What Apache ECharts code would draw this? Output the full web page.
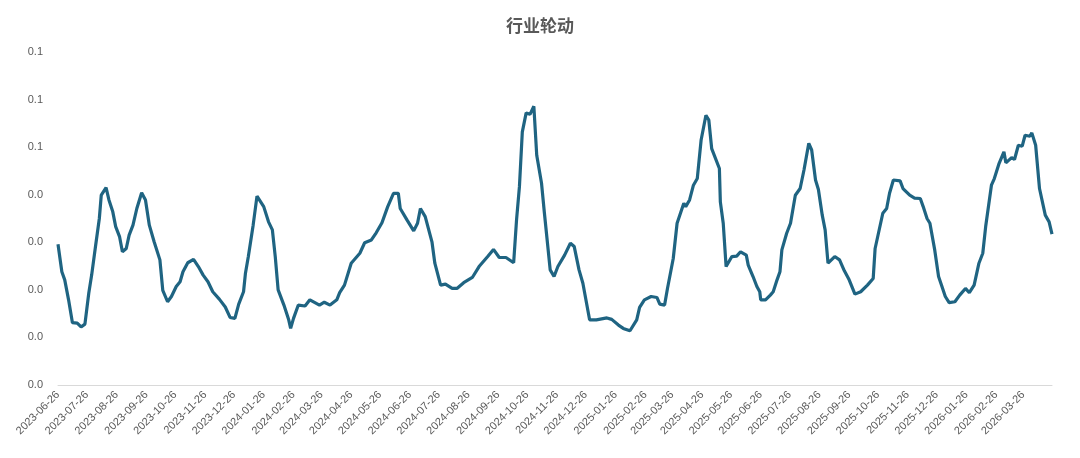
<!DOCTYPE html>
<html><head><meta charset="utf-8">
<script src="https://cdn.jsdelivr.net/npm/echarts@6/dist/echarts.min.js"></script>
<style>html,body{margin:0;padding:0;background:#fff}#c{width:1080px;height:458px}</style>
</head><body><div id="c"></div>
<script>
const startDate = '2023-06-26';
const totalDays = 1035;
const dayOffsets = [0,4,7,11,15,20,24,28,32,35,39,43,45,50,53,57,60,64,67,71,74,78,82,88,92,96,101,107,110,115,119,124,128,131,136,142,147,152,157,162,169,175,180,185,189,194,196,199,204,208,215,220,224,227,230,236,241,243,246,251,258,264,274,279,285,292,295,300,307,316,321,328,333,339,345,351,356,358,365,372,376,379,384,391,394,400,405,412,417,424,433,441,450,456,462,469,477,480,483,486,490,494,498,501,506,509,515,519,523,530,536,540,545,549,556,563,574,579,586,591,598,605,609,614,621,627,630,635,638,644,648,655,657,661,665,669,673,678,681,684,692,693,696,699,705,710,714,720,722,727,731,734,735,740,745,748,752,755,757,762,766,771,776,781,786,789,793,796,800,803,806,813,818,823,828,834,840,847,853,855,863,867,870,874,881,884,891,896,902,905,909,912,917,921,924,928,932,938,943,949,954,959,964,968,971,977,980,985,990,992,998,1001,1005,1009,1012,1017,1019,1023,1027,1033,1037,1040];
const valuesMilli = [29.6,23.8,22.1,17.9,13.1,13.0,12.2,12.8,19.3,23.1,29.1,35.0,39.9,41.5,38.9,36.4,33.3,31.2,28.0,28.7,31.5,33.6,37.1,40.4,38.9,33.6,30.1,26.3,19.9,17.5,18.6,20.7,21.7,23.8,25.7,26.4,24.9,23.1,21.7,19.6,18.0,16.4,14.2,14.0,17.0,19.6,23.5,27.0,33.6,39.7,37.5,34.3,32.6,27.0,20.0,16.8,13.7,11.9,14.0,16.8,16.6,17.9,16.8,17.4,16.8,17.9,19.4,21.0,25.6,27.7,29.9,30.5,32.0,34.1,37.5,40.3,40.3,37.1,34.7,32.4,34.0,37.1,35.4,30.1,25.6,21.0,21.2,20.3,20.3,21.5,22.6,24.9,27.0,28.5,26.8,26.8,25.7,34.7,41.7,53.2,57.2,56.9,58.6,48.3,42.4,36.1,24.2,22.8,24.9,27.3,29.8,29.1,24.2,21.4,13.7,13.7,14.1,13.8,12.6,11.9,11.4,13.7,16.3,17.9,18.6,18.4,17.0,16.8,20.3,26.6,34.0,38.2,37.5,38.9,42.0,43.4,51.5,56.7,55.7,49.7,45.5,38.5,34.0,24.9,27.0,27.1,28.0,27.3,25.2,22.8,20.7,19.6,17.9,17.9,18.9,19.6,22.1,23.8,28.4,31.9,34.0,39.9,41.3,45.2,50.8,49.4,43.1,41.1,35.7,32.6,25.6,27.0,26.3,24.0,22.1,19.1,19.6,21.0,22.4,28.7,36.1,37.1,40.3,43.1,42.9,41.3,39.9,39.3,39.2,37.5,35.0,34.0,28.4,22.8,21.0,18.6,17.3,17.5,18.9,20.3,19.4,21.0,25.6,27.7,33.3,42.0,43.4,46.6,49.0,46.7,47.8,47.4,50.4,50.2,52.5,52.3,53.0,50.4,41.3,35.7,34.3,31.7];

const categories = [];
const t0 = Date.UTC(2023,5,26);
for (let i=0;i<totalDays;i++){ categories.push(new Date(t0+i*86400000).toISOString().slice(0,10)); }
const lastOffset = dayOffsets[dayOffsets.length-1];
const seriesData = dayOffsets.map((d,i)=>[Math.round(d*(totalDays-1)/lastOffset), valuesMilli[i]/1000]);

const chart = echarts.init(document.getElementById('c'));
chart.setOption({
  animation:false,
  title:{text:'行业轮动',left:'center',top:12,textStyle:{fontSize:17,fontWeight:'bold',color:'#595959',fontFamily:'Noto Sans CJK SC'}},
  grid:{left:58,right:28,top:52,bottom:73},
  xAxis:{type:'category',data:categories,boundaryGap:false,
    axisLine:{lineStyle:{color:'#d9d9d9'}},axisTick:{show:false},
    axisLabel:{interval:(i,v)=>v.slice(8)==='26',rotate:45,color:'#595959',fontSize:11,margin:8,fontFamily:'Liberation Sans'}},
  yAxis:{type:'value',min:0,max:0.07,interval:0.01,
    axisLine:{show:false},axisTick:{show:false},splitLine:{show:false},
    axisLabel:{formatter:v=>v.toFixed(1),color:'#595959',fontSize:11,margin:15,fontFamily:'Liberation Sans'}},
  series:[{type:'line',data:seriesData,showSymbol:false,smooth:false,
    lineStyle:{color:'#1f6482',width:3.2}}]
});
</script></body></html>
